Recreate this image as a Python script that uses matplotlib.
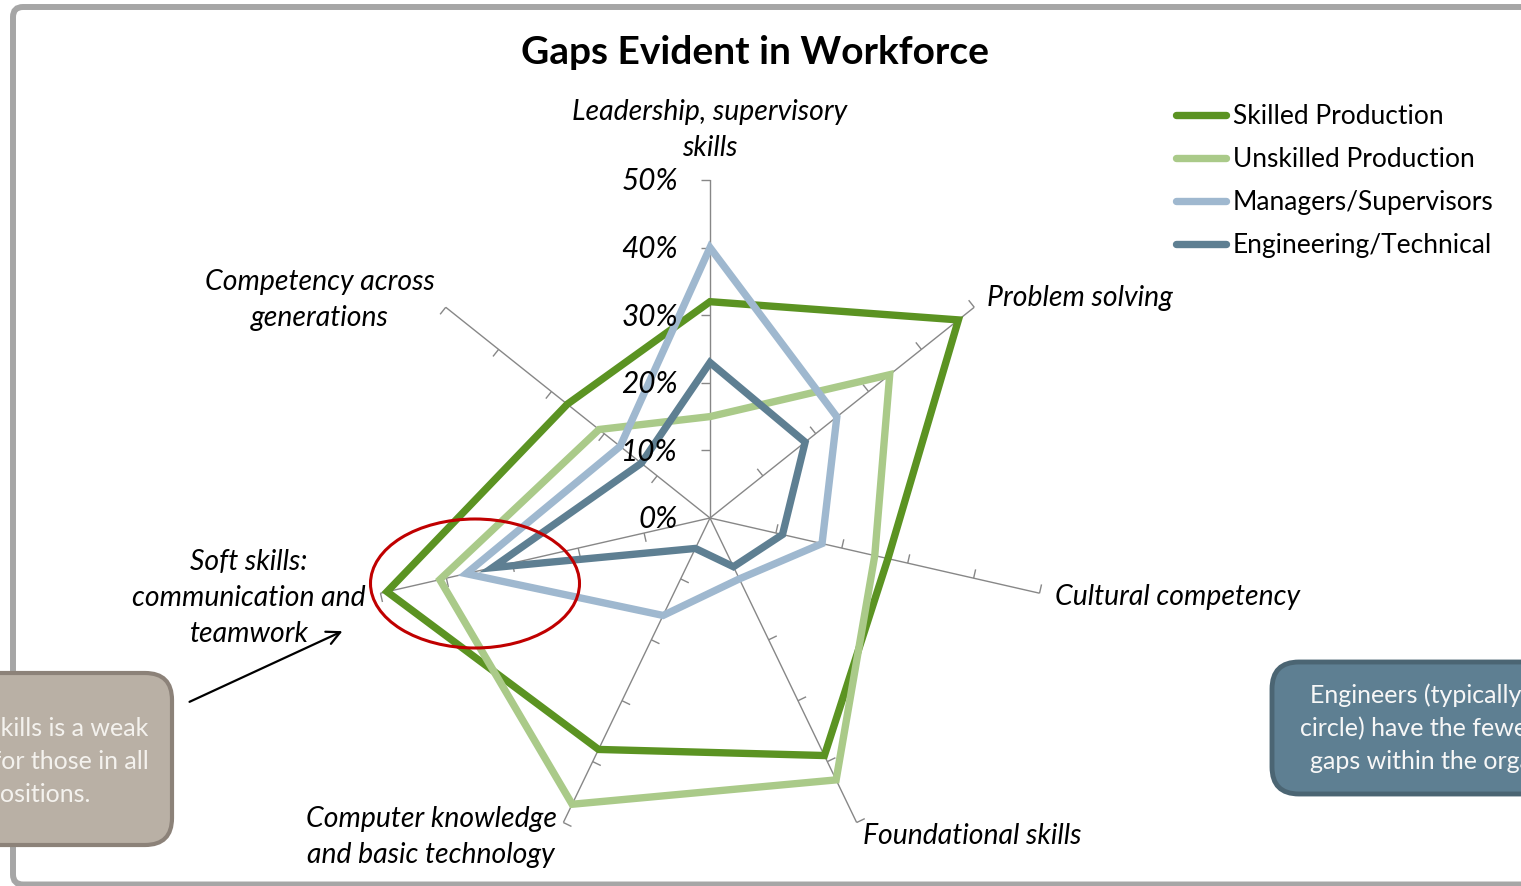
import numpy as np
import matplotlib
matplotlib.use("Agg")
import matplotlib.pyplot as plt
from matplotlib.patches import FancyBboxPatch, Ellipse, FancyArrowPatch
from matplotlib.lines import Line2D
from matplotlib.transforms import Affine2D, offset_copy

# ---------------- data ----------------
categories = [
    "Leadership, supervisory\nskills",
    "Problem solving",
    "Cultural competency",
    "Foundational skills",
    "Computer knowledge\nand basic technology",
    "Soft skills:\ncommunication and\nteamwork",
    "Competency across\ngenerations",
]
series_names = ["Skilled Production", "Unskilled Production",
                "Managers/Supervisors", "Engineering/Technical"]
skilled = [0.32, 0.47, 0.27, 0.39, 0.38, 0.49, 0.27]
unskilled = [0.15, 0.34, 0.25, 0.43, 0.47, 0.41, 0.21]
managers = [0.40, 0.24, 0.17, 0.10, 0.16, 0.37, 0.17]
engineering = [0.23, 0.18, 0.11, 0.08, 0.05, 0.33, 0.13]
radial_ticks = [0.0, 0.1, 0.2, 0.3, 0.4, 0.5]
radial_labels = ["0%", "10%", "20%", "30%", "40%", "50%"]
title = "Gaps Evident in Workforce"
note_left = ["Soft skills is a weak", "area for those in all", "positions."]
note_right = ["Engineers (typically inner", "circle) have the fewest skill",
              "gaps within the organization."]

colors = ["#5B9322", "#AACA89", "#9FB8CF", "#5E7F92"]

# ---------------- figure ----------------
W, H, DPI = 1521, 886, 100
plt.rcParams['font.family'] = ['Lato', 'DejaVu Sans']
fig = plt.figure(figsize=(W / DPI, H / DPI), dpi=DPI)
fig.patch.set_facecolor('white')
pxT = Affine2D().scale(1.0 / DPI) + fig.dpi_scale_trans


def py(y):
    return H - y


# outer chart border
border = FancyBboxPatch((13, py(884.5)), 1600, 884.5 - 7,
                        boxstyle="round,pad=0,rounding_size=10",
                        transform=pxT, fc='white', ec='#A6A6A6', lw=4.3, zorder=0)
fig.add_artist(border)

# polar axes
R_PX = 338
cx, cy = 710, 518
ax = fig.add_axes([(cx - R_PX) / W, (H - cy - R_PX) / H, 2 * R_PX / W, 2 * R_PX / H],
                  projection='polar')
ax.set_zorder(2)
ax.patch.set_visible(False)
ax.set_theta_zero_location('N')
ax.set_theta_direction(-1)
ax.set_ylim(0, 0.5)
N = len(categories)
theta = np.arange(N) * 2 * np.pi / N
ax.set_xticks(theta)
ax.set_xticklabels([])
ax.set_yticks(radial_ticks)
ax.set_yticklabels([])
ax.yaxis.grid(False)
ax.xaxis.grid(True, color='#878787', lw=1.0)
ax.tick_params(axis='both', length=0)
ax.spines['polar'].set_visible(False)

# small tick marks on every spoke
TICK = 9.0
for th in theta:
    for r in radial_ticks[1:]:
        rp = r * 2 * R_PX
        dth = np.arctan(TICK / rp)
        r2 = np.hypot(rp, TICK) / (2 * R_PX)
        ax.plot([th, th - dth], [r, r2], color='#878787', lw=1.0,
                clip_on=False, solid_capstyle='butt', zorder=1)

# series
for vals, c in zip([skilled, unskilled, managers, engineering], colors):
    ax.fill(theta, vals, facecolor='none', edgecolor=c, lw=5.3,
            joinstyle='miter', clip_on=False, zorder=3)

# radial labels
for r, lab in zip(radial_ticks, radial_labels):
    ax.text(0, r, lab,
            transform=offset_copy(ax.transData, fig=fig, x=-32, y=-1.5, units='dots'),
            ha='right', va='center', fontsize=21.4, style='italic', color='black',
            clip_on=False)

# category labels
label_pos = [(710, 130, 'center'), (987, 298, 'left'), (1055, 597, 'left'),
             (863, 836, 'left'), (431, 837, 'center'), (249, 598, 'center'),
             (320, 300, 'center')]
for lab, (x, y, ha) in zip(categories, label_pos):
    fig.text(x, py(y), lab, transform=pxT, ha=ha, va='center', multialignment='center',
             fontsize=20.4, style='italic', color='black', linespacing=1.47)

# title
fig.text(755, py(64), title, transform=pxT, ha='center', va='baseline',
         fontsize=28, weight='bold', color='black')

# legend
handles = [Line2D([], [], color=c, lw=5.3, solid_capstyle='round') for c in colors]
fig.legend(handles, series_names, loc='upper left',
           bbox_to_anchor=(1175.5, py(104)), bbox_transform=pxT, frameon=False,
           fontsize=19, handlelength=1.93, handletextpad=0.25, labelspacing=0.68,
           borderpad=0, borderaxespad=0)

# red ellipse highlight
fig.add_artist(Ellipse((475, py(583.5)), 209, 129, transform=pxT, fill=False,
                       ec='#C00000', lw=2.2, zorder=5))

# arrow
fig.add_artist(FancyArrowPatch((187, py(703)), (345, py(630)), transform=pxT,
                               arrowstyle='->', mutation_scale=24, lw=1.6,
                               color='black', zorder=5))

# note boxes
fig.add_artist(FancyBboxPatch((-120, py(845)), 292, 172,
                              boxstyle="round,pad=0,rounding_size=27", transform=pxT,
                              fc='#B9B0A5', ec='#8C8279', lw=3.0, zorder=5))
for line, x, y in zip(note_left, [148, 149, 91], [736, 769, 802]):
    fig.text(x, py(y), line, transform=pxT, ha='right', va='baseline',
             fontsize=18, color='#F4F2EE', zorder=6)

fig.add_artist(FancyBboxPatch((1272, py(794)), 400, 132,
                              boxstyle="round,pad=0,rounding_size=27", transform=pxT,
                              fc='#5E7F92', ec='#4B6573', lw=3.5, zorder=5))
for line, x, y in zip(note_right, [1310, 1300, 1310], [703, 736, 769]):
    fig.text(x, py(y), line, transform=pxT, ha='left', va='baseline',
             fontsize=18, color='#F7F7F7', zorder=6)

fig.savefig("out.png", dpi=DPI, facecolor='white')
